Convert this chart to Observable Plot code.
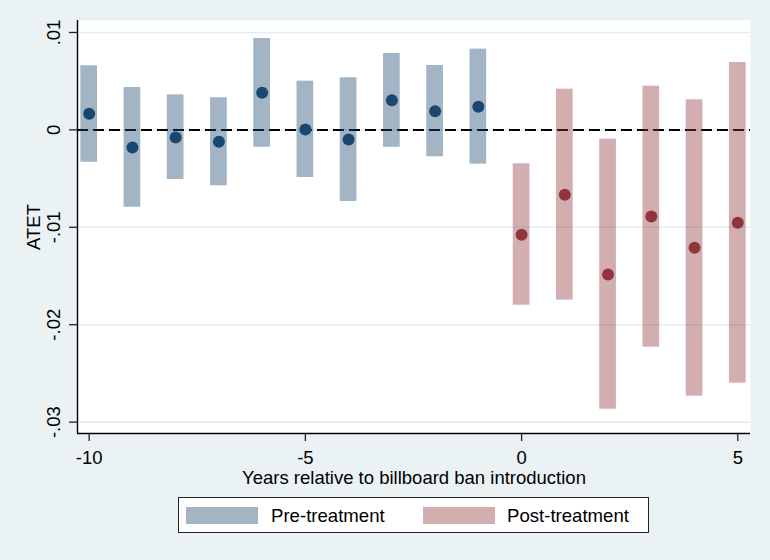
<!DOCTYPE html>
<html>
<head>
<meta charset="utf-8">
<script src="https://cdn.jsdelivr.net/npm/d3@7"></script>
<script src="https://cdn.jsdelivr.net/npm/@observablehq/plot@0.6"></script>
<style>
  html, body { margin: 0; padding: 0; background: #EAF2F3; }
  #wrap { position: relative; width: 770px; height: 560px; background: #EAF2F3; font-family: "Liberation Sans", Arial, sans-serif; }
  #legend { position: absolute; left: 178px; top: 497px; width: 469px; height: 34px; background: #fff; border: 1.3px solid #222; }
  .sw { position: absolute; top: 9px; width: 72px; height: 17px; }
  .lt { position: absolute; top: 0; line-height: 35px; font-size: 18.6px; color: #000; }
</style>
</head>
<body>
<div id="wrap">
  <div id="chart"></div>
  <div id="legend"></div>
</div>
<script>
// Event-time (years relative to billboard ban introduction)
const preYears  = [-10, -9, -8, -7, -6, -5, -4, -3, -2, -1];
const preEst    = [0.00165, -0.00181, -0.00078, -0.00122, 0.00381, 0.00004, -0.00099, 0.00305, 0.00192, 0.00237];
const preLo     = [-0.00332, -0.00794, -0.00509, -0.00574, -0.00178, -0.00489, -0.00735, -0.00178, -0.00276, -0.00352];
const preHi     = [0.00658, 0.00435, 0.00360, 0.00330, 0.00938, 0.00500, 0.00535, 0.00784, 0.00661, 0.00829];

const postYears = [0, 1, 2, 3, 4, 5];
const postEst   = [-0.01077, -0.00666, -0.01485, -0.00889, -0.01210, -0.00954];
const postLo    = [-0.01800, -0.01748, -0.02868, -0.02231, -0.02734, -0.02600];
const postHi    = [-0.00348, 0.00418, -0.00095, 0.00449, 0.00309, 0.00692];

const xTicks = [-10, -5, 0, 5];
const yTicks = [0.01, 0, -0.01, -0.02, -0.03];
const yTickLabels = [".01", "0", "-.01", "-.02", "-.03"];
const xDomain = [-10.27, 5.294];
const yDomain = [-0.03117, 0.01123];

const xTitle = "Years relative to billboard ban introduction";
const yTitle = "ATET";
const legendLabels = ["Pre-treatment", "Post-treatment"];

const navy = "#1A476F", maroon = "#90353B";
const halfW = 0.193;

const pre = preYears.map((x, i) => ({x, est: preEst[i], lo: preLo[i], hi: preHi[i]}));
const post = postYears.map((x, i) => ({x, est: postEst[i], lo: postLo[i], hi: postHi[i]}));
const yTickData = yTicks.map((v, i) => ({v, label: yTickLabels[i]}));

const font = "Liberation Sans, Arial, sans-serif";
const fs = 18.5;

const chart = Plot.plot({
  width: 770,
  height: 490,
  marginLeft: 77,
  marginRight: 20,
  marginTop: 20,
  marginBottom: 57,
  style: {background: "transparent", fontFamily: font, fontSize: fs + "px", color: "#000", overflow: "visible"},
  x: {domain: xDomain, axis: null},
  y: {domain: yDomain, axis: null},
  marks: [
    Plot.frame({fill: "white", stroke: null}),
    Plot.gridY(yTicks, {stroke: "#E4EDEF", strokeOpacity: 1, strokeWidth: 1.6}),
    Plot.ruleY([0], {stroke: "#000", strokeWidth: 2, strokeDasharray: "11,5"}),
    Plot.rect(pre, {x1: d => d.x - halfW, x2: d => d.x + halfW, y1: "lo", y2: "hi", fill: navy, fillOpacity: 0.4}),
    Plot.rect(post, {x1: d => d.x - halfW, x2: d => d.x + halfW, y1: "lo", y2: "hi", fill: maroon, fillOpacity: 0.4}),
    Plot.dot(pre, {x: "x", y: "est", r: 6, fill: navy, stroke: null}),
    Plot.dot(post, {x: "x", y: "est", r: 6, fill: maroon, stroke: null}),
    // axis lines
    Plot.ruleX([xDomain[0]], {stroke: "#000", strokeWidth: 1.4}),
    Plot.ruleY([yDomain[0]], {stroke: "#000", strokeWidth: 1.4}),
    // tick marks
    Plot.axisX({ticks: xTicks, tickSize: 8, tickFormat: () => "", label: null, stroke: "#222", strokeWidth: 1.3}),
    Plot.axisY({ticks: yTicks, tickSize: 8, tickFormat: () => "", label: null, stroke: "#222", strokeWidth: 1.3}),
    // tick labels
    Plot.text(xTicks, {x: d => d, text: d => String(d), frameAnchor: "bottom", dy: 24.5, lineAnchor: "middle", fontSize: fs, fill: "#000"}),
    Plot.text(yTickData, {y: "v", text: "label", frameAnchor: "left", dx: -23, rotate: -90, textAnchor: "middle", lineAnchor: "middle", fontSize: fs, fill: "#000"}),
    // titles
    Plot.text([xTitle], {frameAnchor: "bottom", dy: 44.5, lineAnchor: "middle", fontSize: fs, fill: "#000"}),
    Plot.text([yTitle], {frameAnchor: "left", dx: -43.5, rotate: -90, textAnchor: "middle", lineAnchor: "middle", fontSize: fs, fill: "#000"})
  ]
});
document.getElementById("chart").appendChild(chart);

// legend
const legend = document.getElementById("legend");
const items = [
  {label: legendLabels[0], color: navy, swLeft: 7, textLeft: 92},
  {label: legendLabels[1], color: maroon, swLeft: 244, textLeft: 328}
];
for (const it of items) {
  const sw = document.createElement("div");
  sw.className = "sw";
  sw.style.left = it.swLeft + "px";
  sw.style.background = it.color;
  sw.style.opacity = 0.4;
  legend.appendChild(sw);
  const t = document.createElement("div");
  t.className = "lt";
  t.style.left = it.textLeft + "px";
  t.textContent = it.label;
  legend.appendChild(t);
}
</script>
</body>
</html>
